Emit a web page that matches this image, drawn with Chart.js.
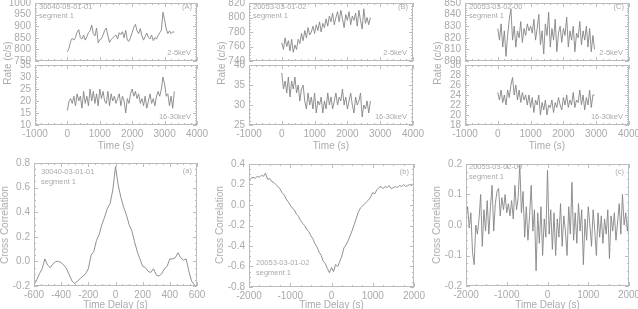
<!DOCTYPE html>
<html>
<head>
<meta charset="utf-8">
<script src="https://cdn.jsdelivr.net/npm/chart.js@4/dist/chart.umd.min.js"></script>
<style>
html, body { margin: 0; padding: 0; background: #fff; width: 638px; height: 309px; overflow: hidden; position: relative; }
body { font-family: "Liberation Sans", Arial, sans-serif; }
canvas { position: absolute; }
.t { position: absolute; color: #aaaaaa; white-space: nowrap; line-height: 1; }
</style>
</head>
<body>
<script>
// ---- light curves (c/s), binned from t0 with a fixed bin width ----
var lcBin = 50; // s
var lcA_soft = [790, 805, 835, 848, 840, 852, 875, 885, 850, 845,
    862, 840, 855, 872, 880, 905, 868, 858, 892, 828,
    842, 846, 862, 882, 892, 858, 830, 842, 850, 856,
    862, 845, 872, 864, 876, 850, 882, 840, 835, 852,
    872, 896, 908, 880, 868, 890, 858, 840, 856, 870,
    852, 845, 862, 838, 850, 845, 860, 872, 882, 960,
    928, 888, 868, 880, 868, 876, 874];
var lcA_hard = [16, 20, 21, 19, 22, 18, 23, 20, 22, 17,
    24, 19, 22, 18, 25, 20, 24, 19, 23, 18,
    25, 21, 24, 20, 19, 24, 18, 23, 20, 22,
    19, 21, 23, 18, 22, 20, 15, 21, 19, 23,
    25, 22, 24, 21, 23, 19, 21, 18, 22, 17,
    20, 23, 19, 21, 18, 22, 24, 22, 25, 30,
    27, 22, 23, 18, 22, 17, 24];
var lcB_soft = [765, 756, 772, 760, 768, 754, 770, 752, 762, 756,
    770, 764, 778, 768, 782, 772, 786, 776, 780, 788,
    778, 790, 782, 794, 780, 792, 786, 798, 788, 802,
    794, 806, 790, 800, 808, 794, 810, 798, 786, 804,
    796, 808, 790, 802, 796, 806, 788, 810, 796, 784,
    812, 792, 800, 790, 800];
var lcB_hard = [38, 34, 36, 33, 37, 32, 36, 34, 37, 33,
    35, 31, 34, 35, 31, 29, 33, 30, 32, 29,
    33, 28, 31, 30, 32, 28, 31, 29, 33, 30,
    32, 29, 31, 33, 30, 32, 31, 34, 30, 32,
    29, 31, 33, 30, 28, 32, 30, 31, 33, 27,
    30, 29, 31, 28, 31];
var lcC_soft = [828, 818, 832, 812, 826, 804, 822, 836, 845, 818,
    830, 812, 826, 820, 834, 816, 828, 822, 832, 826,
    830, 824, 836, 818, 828, 840, 814, 826, 806, 832,
    822, 842, 812, 828, 818, 836, 808, 824, 830, 816,
    828, 822, 838, 812, 826, 818, 830, 808, 824, 820,
    834, 814, 826, 818, 830, 812, 828, 808, 822, 810];
var lcC_hard = [24.5, 23, 25, 22.5, 24, 22, 25, 23.5, 26, 27.5,
    24, 26, 23, 25, 22.5, 24.5, 23, 24, 22, 24,
    21.5, 23.5, 20.5, 23, 22, 24, 20, 22.5, 21, 23,
    20, 22, 21.5, 23, 20.5, 22.5, 21.5, 23.5, 22, 21,
    23.5, 22, 24, 21.5, 23, 22, 24.5, 21.5, 23, 22.5,
    25, 22, 24, 21, 23.5, 22, 25, 21.5, 24, 24];

// ---- cross correlations vs time delay (s) ----
var ccfA_start = -600, ccfA_step = 20;
var ccfA = [-0.19, -0.15, -0.10, -0.06, 0.02, -0.03, -0.05, -0.02, 0.00, 0.00,
    -0.01, -0.03, -0.06, -0.11, -0.16, -0.18, -0.16, -0.14, -0.12, -0.10,
    -0.06, 0.05, 0.08, 0.17, 0.22, 0.30, 0.36, 0.43, 0.47, 0.58,
    0.77, 0.62, 0.52, 0.44, 0.38, 0.30, 0.25, 0.16, 0.08, 0.02,
    -0.04, -0.05, -0.08, -0.09, -0.06, -0.11, -0.12, -0.10, -0.06, -0.04,
    0.02, 0.02, 0.03, 0.07, 0.03, 0.01, 0.02, -0.08, -0.16, -0.19,
    -0.21];
var ccfB_start = -2000, ccfB_step = 50;
var ccfB = [0.22, 0.26, 0.27, 0.26, 0.28, 0.27, 0.29, 0.28, 0.31, 0.25,
    0.26, 0.23, 0.22, 0.20, 0.18, 0.16, 0.12, 0.10, 0.06, 0.03,
    0.00, -0.03, -0.05, -0.09, -0.11, -0.15, -0.18, -0.20, -0.24, -0.26,
    -0.30, -0.33, -0.38, -0.41, -0.46, -0.49, -0.55, -0.57, -0.62, -0.66,
    -0.61, -0.65, -0.58, -0.60, -0.55, -0.50, -0.42, -0.39, -0.35, -0.30,
    -0.25, -0.19, -0.13, -0.07, -0.03, -0.01, 0.01, 0.03, 0.05, 0.08,
    0.12, 0.11, 0.15, 0.17, 0.18, 0.16, 0.18, 0.17, 0.19, 0.16,
    0.17, 0.18, 0.17, 0.19, 0.18, 0.20, 0.18, 0.19, 0.20, 0.19,
    0.22];
var ccfC_start = -2000, ccfC_step = 40;
var ccfC = [0.02, 0.06, -0.01, 0.04, -0.09, -0.13, 0.00, -0.03, 0.02, 0.10,
    -0.07, 0.05, -0.02, 0.08, -0.03, 0.06, 0.13, -0.02, 0.07, 0.11,
    0.12, 0.03, 0.09, 0.05, 0.10, 0.04, 0.07, 0.03, 0.08, 0.02,
    0.13, 0.05, 0.09, 0.20, 0.04, 0.11, -0.04, 0.06, -0.05, 0.03,
    0.13, -0.02, 0.05, -0.15, 0.04, -0.06, 0.06, -0.10, 0.02, -0.04,
    0.18, -0.03, 0.05, -0.08, 0.04, -0.10, 0.02, -0.04, 0.07, -0.07,
    0.03, -0.02, -0.10, 0.06, -0.03, 0.14, -0.05, 0.04, -0.06, 0.07,
    -0.02, 0.05, -0.13, 0.02, -0.05, 0.06, 0.00, -0.07, 0.05, -0.02,
    -0.10, 0.04, -0.04, 0.03, -0.06, 0.02, -0.03, 0.05, -0.11, 0.03,
    -0.02, 0.04, -0.05, 0.01, 0.07, -0.03, 0.10, 0.00, 0.04, -0.02,
    0.05];

// ---- axis ranges [min, max, step] ----
var timeAxis = [-1000, 4000, 1000];
var rateA_soft = [750, 1000, 50], rateA_hard = [10, 35, 5];
var rateB_soft = [740, 820, 20], rateB_hard = [25, 40, 5];
var rateC_soft = [800, 850, 10], rateC_hard = [18, 30, 2];
var lagA = [-600, 600, 200], ccA = [-0.2, 0.8, 0.2];
var lagB = [-2000, 2000, 1000], ccB = [-0.8, 0.4, 0.2];
var lagC = [-2000, 2000, 1000], ccC = [-0.2, 0.2, 0.1];

var obsIds = ['30040-03-01-01', '20053-03-01-02', '20053-03-02-00'];

var inkText = '#aaaaaa';
var inkLine = '#858585';
var inkFrame = '#bcbcbc';
var fam = '"Liberation Sans", Arial, sans-serif';

function series(t0, dt, vals) {
    return vals.map(function (v, i) { return {x: t0 + i * dt, y: v}; });
}

// IDL-style box with inward major/minor ticks on all four sides
var frameTicks = {
    id: 'frameTicks',
    afterDatasetsDraw: function (chart, args, opts) {
        var ctx = chart.ctx, a = chart.chartArea;
        ctx.save();
        ctx.strokeStyle = inkFrame;
        ctx.lineWidth = 1;
        ctx.strokeRect(Math.round(a.left) + 0.5, Math.round(a.top) + 0.5,
            Math.round(a.right - a.left) - 1, Math.round(a.bottom - a.top) - 1);
        ['x', 'y'].forEach(function (id) {
            var s = chart.scales[id];
            var vals = s.ticks.map(function (t) { return t.value; });
            var minor = opts[id + 'Minor'] || 1;
            var marks = [];
            for (var i = 0; i < vals.length; i++) {
                marks.push([vals[i], 4]);
                if (i < vals.length - 1) {
                    for (var k = 1; k < minor; k++) {
                        marks.push([vals[i] + (vals[i + 1] - vals[i]) * k / minor, 2]);
                    }
                }
            }
            ctx.beginPath();
            marks.forEach(function (m) {
                var p = Math.round(s.getPixelForValue(m[0])) + 0.5;
                if (id === 'x') {
                    ctx.moveTo(p, a.bottom); ctx.lineTo(p, a.bottom - m[1]);
                    ctx.moveTo(p, a.top); ctx.lineTo(p, a.top + m[1]);
                } else {
                    ctx.moveTo(a.left, p); ctx.lineTo(a.left + m[1], p);
                    ctx.moveTo(a.right, p); ctx.lineTo(a.right - m[1], p);
                }
            });
            ctx.stroke();
        });
        ctx.restore();
    }
};

function intFmt(v) { return String(Math.round(v)); }
function decFmt(v) { return Math.abs(v) < 1e-9 ? '0.0' : v.toFixed(1); }

function panel(box, cfg) {
    var padT = 8, padB = 8, padR = 16, yw = 40;
    var xh = cfg.xLabels ? 16 : 0;
    var W = yw + box.w + padR, H = padT + box.h + xh + padB;
    var c = document.createElement('canvas');
    c.width = W; c.height = H;
    c.style.left = (box.l - yw) + 'px';
    c.style.top = (box.t - padT) + 'px';
    c.style.width = W + 'px';
    c.style.height = H + 'px';
    document.body.appendChild(c);
    new Chart(c, {
        type: 'line',
        data: {datasets: [{data: cfg.points, borderColor: inkLine, borderWidth: 0.9,
            pointRadius: 0, tension: 0, fill: false}]},
        options: {
            responsive: false, animation: false, maintainAspectRatio: false,
            layout: {padding: {left: 0, top: padT, right: padR, bottom: padB}},
            plugins: {legend: {display: false}, tooltip: {enabled: false},
                frameTicks: {xMinor: cfg.xMinor, yMinor: cfg.yMinor}},
            scales: {
                x: {type: 'linear', min: cfg.x[0], max: cfg.x[1],
                    ticks: {stepSize: cfg.x[2], display: !!cfg.xLabels, maxRotation: 0, autoSkip: false,
                        padding: 3, color: inkText, font: {size: 10, family: fam}, callback: intFmt},
                    grid: {display: false, drawTicks: false}, border: {display: false},
                    afterFit: function (s) { s.height = xh; }},
                y: {type: 'linear', min: cfg.y[0], max: cfg.y[1],
                    ticks: {stepSize: cfg.y[2], padding: 4, color: inkText, autoSkip: false,
                        font: {size: 10, family: fam}, callback: cfg.yFmt || intFmt},
                    grid: {display: false, drawTicks: false}, border: {display: false},
                    afterFit: function (s) { s.width = yw; }}
            }
        },
        plugins: [frameTicks]
    });
}

function txt(s, x, y, size, align, rot) {
    var d = document.createElement('div');
    d.className = 't';
    d.textContent = s;
    d.style.left = x + 'px';
    d.style.top = y + 'px';
    d.style.fontSize = size + 'px';
    var tx = align === 'r' ? '-100%' : (align === 'c' ? '-50%' : '0');
    d.style.transform = 'translate(' + tx + ',-50%)' + (rot ? ' rotate(-90deg)' : '');
    if (rot) d.style.transformOrigin = '50% 50%';
    document.body.appendChild(d);
}

// ---- top row: light curves, soft band above hard band ----
var tops = [
    {l: 35, w: 162, soft: lcA_soft, hard: lcA_hard, ys: rateA_soft, yh: rateA_hard, tag: '(A)'},
    {l: 249, w: 164, soft: lcB_soft, hard: lcB_hard, ys: rateB_soft, yh: rateB_hard, tag: '(B)'},
    {l: 465, w: 164, soft: lcC_soft, hard: lcC_hard, ys: rateC_soft, yh: rateC_hard, tag: '(C)'}
];
tops.forEach(function (p, i) {
    panel({l: p.l, t: 1, w: p.w, h: 62},
        {points: series(0, lcBin, p.soft), x: timeAxis, y: p.ys, xMinor: 5, yMinor: 5});
    panel({l: p.l, t: 63, w: p.w, h: 62},
        {points: series(0, lcBin, p.hard), x: timeAxis, y: p.yh, xLabels: true, xMinor: 5, yMinor: 5});
    var r = p.l + p.w;
    txt(obsIds[i], p.l + 4, 7, 7.5, 'l');
    txt('segment 1', p.l + 4, 16, 7.5, 'l');
    txt(p.tag, r - 5, 7, 7.5, 'r');
    txt('2-5keV', r - 6, 53, 7.5, 'r');
    txt('16-30keV', r - 6, 117, 7.5, 'r');
    txt('Time (s)', p.l + p.w / 2, 146, 10, 'c');
    txt('Rate (c/s)', p.l - 27, 63, 10, 'c', true);
});

// ---- bottom row: cross correlations ----
var bots = [
    {l: 34, t: 161, w: 163, h: 125, pts: series(ccfA_start, ccfA_step, ccfA), x: lagA, y: ccA, tag: '(a)', lab: [41, 172]},
    {l: 249, t: 162, w: 165, h: 125, pts: series(ccfB_start, ccfB_step, ccfB), x: lagB, y: ccB, tag: '(b)', lab: [256, 263]},
    {l: 466, t: 162, w: 163, h: 124, pts: series(ccfC_start, ccfC_step, ccfC), x: lagC, y: ccC, tag: '(c)', lab: [469, 167]}
];
bots.forEach(function (p, i) {
    panel({l: p.l, t: p.t, w: p.w, h: p.h},
        {points: p.pts, x: p.x, y: p.y, xLabels: true, yFmt: decFmt, xMinor: 4, yMinor: 4});
    txt(obsIds[i], p.lab[0], p.lab[1], 7.5, 'l');
    txt('segment 1', p.lab[0], p.lab[1] + 10, 7.5, 'l');
    txt(p.tag, p.l + p.w - 5, p.t + 10, 7.5, 'r');
    txt('Time Delay (s)', p.l + p.w / 2, 305, 10, 'c');
    txt('Cross Correlation', p.l - 29, 225, 10, 'c', true);
});
</script>
</body>
</html>
